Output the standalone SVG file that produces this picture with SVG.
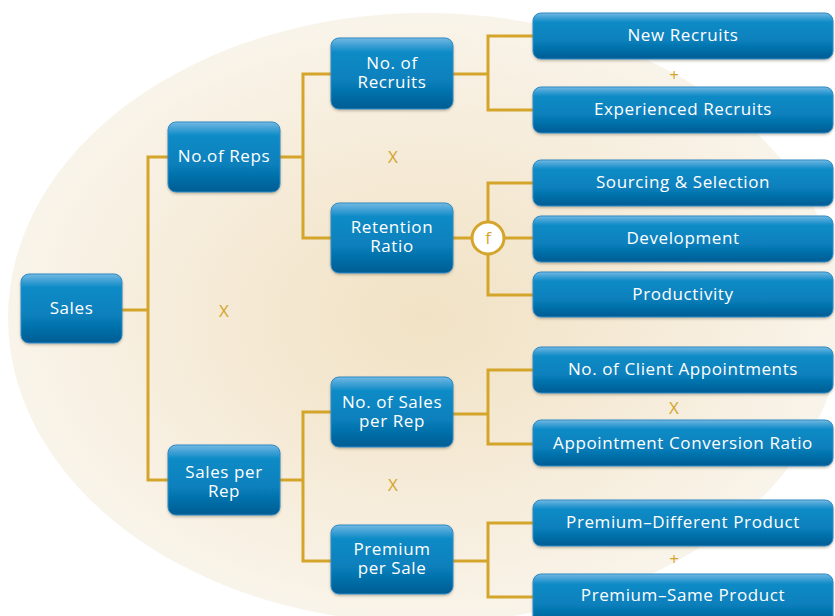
<svg xmlns="http://www.w3.org/2000/svg" width="835" height="616" viewBox="0 0 835 616">
  <defs>
    <radialGradient id="halo" cx="0.5" cy="0.5" r="0.5">
      <stop offset="0" stop-color="#F1E2C4"/>
      <stop offset="0.5" stop-color="#F5EAD6"/>
      <stop offset="1" stop-color="#F9F4EA"/>
    </radialGradient>
    <linearGradient id="boxFill" x1="0" y1="0" x2="0" y2="1">
      <stop offset="0" stop-color="#74B9E2"/>
      <stop offset="0.1" stop-color="#3FA0D5"/>
      <stop offset="0.2" stop-color="#0D8BC6"/>
      <stop offset="0.6" stop-color="#0780BC"/>
      <stop offset="1" stop-color="#045C93"/>
    </linearGradient>
    <filter id="shadow" x="-10%" y="-10%" width="120%" height="130%">
      <feDropShadow dx="0" dy="1.5" stdDeviation="1.2" flood-color="#5A4A2A" flood-opacity="0.35"/>
    </filter>
    <style>
      .box { fill: url(#boxFill); stroke: #2E8BC4; stroke-width: 1; filter: url(#shadow); }
      .lbl { font-family: "Open Sans", "Noto Sans", sans-serif; font-size: 17px; letter-spacing: 0.6px; fill: #FFFFFF; text-anchor: middle; }
      .op { font-family: "Open Sans", "Noto Sans", sans-serif; font-size: 17px; fill: #D4A52A; text-anchor: middle; }
      .wire { fill: none; stroke: #D4A52A; stroke-width: 3; }
    </style>
  </defs>

  <!-- soft backdrop -->
  <ellipse cx="425" cy="318" rx="417" ry="305" fill="url(#halo)"/>

  <!-- connectors -->
  <g id="connectors" class="wire">
    <path d="M122,310 H148 M168,157 H148 V480 H168"/>
    <path d="M280,157 H303 M331,74 H303 V238 H331"/>
    <path d="M280,480 H303 M331,412 H303 V561 H331"/>
    <path d="M453,74 H488 M533,36 H488 V110 H533"/>
    <path d="M453,238 H472 M504,238 H533 M533,183 H488 V222 M488,254 V295 H533"/>
    <path d="M453,414 H488 M533,370 H488 V444 H533"/>
    <path d="M453,561 H488 M533,523 H488 V597 H533"/>
  </g>

  <!-- operators -->
  <g id="operators">
    <text class="op" x="224" y="317">X</text>
    <text class="op" x="393" y="163">X</text>
    <text class="op" x="393" y="491">X</text>
    <text class="op" x="674" y="414">X</text>
    <text class="op" x="674" y="81">+</text>
    <text class="op" x="674" y="565">+</text>
  </g>

  <g id="node-f">
    <circle cx="488" cy="238" r="16" fill="#FFFFFF" stroke="#D4A52A" stroke-width="3"/>
    <text class="op" x="488" y="244">f</text>
  </g>

  <g id="node-sales">
    <rect class="box" x="21" y="274" width="101" height="69" rx="8"/>
    <text class="lbl" x="71.5" y="314">Sales</text>
  </g>
  <g id="node-reps">
    <rect class="box" x="168" y="122" width="112" height="70" rx="8"/>
    <text class="lbl" x="224" y="162">No.of Reps</text>
  </g>
  <g id="node-sales-per-rep">
    <rect class="box" x="168" y="445" width="112" height="70" rx="8"/>
    <text class="lbl" x="224" y="478">Sales per</text>
    <text class="lbl" x="224" y="497">Rep</text>
  </g>
  <g id="node-recruits">
    <rect class="box" x="331" y="38" width="122" height="71" rx="8"/>
    <text class="lbl" x="392" y="69">No. of</text>
    <text class="lbl" x="392" y="88">Recruits</text>
  </g>
  <g id="node-retention">
    <rect class="box" x="331" y="203" width="122" height="70" rx="8"/>
    <text class="lbl" x="392" y="233">Retention</text>
    <text class="lbl" x="392" y="252">Ratio</text>
  </g>
  <g id="node-sales-count">
    <rect class="box" x="331" y="377" width="122" height="70" rx="8"/>
    <text class="lbl" x="392" y="408">No. of Sales</text>
    <text class="lbl" x="392" y="427">per Rep</text>
  </g>
  <g id="node-premium">
    <rect class="box" x="331" y="525" width="122" height="69" rx="8"/>
    <text class="lbl" x="392" y="555">Premium</text>
    <text class="lbl" x="392" y="574">per Sale</text>
  </g>

  <g id="node-new-recruits">
    <rect class="box" x="533" y="13" width="300" height="46" rx="8"/>
    <text class="lbl" x="683" y="41">New Recruits</text>
  </g>
  <g id="node-experienced">
    <rect class="box" x="533" y="87" width="300" height="46" rx="8"/>
    <text class="lbl" x="683" y="115">Experienced Recruits</text>
  </g>
  <g id="node-sourcing">
    <rect class="box" x="533" y="160" width="300" height="46" rx="8"/>
    <text class="lbl" x="683" y="188">Sourcing &amp; Selection</text>
  </g>
  <g id="node-development">
    <rect class="box" x="533" y="216" width="300" height="46" rx="8"/>
    <text class="lbl" x="683" y="244">Development</text>
  </g>
  <g id="node-productivity">
    <rect class="box" x="533" y="272" width="300" height="45" rx="8"/>
    <text class="lbl" x="683" y="300">Productivity</text>
  </g>
  <g id="node-appointments">
    <rect class="box" x="533" y="347" width="300" height="46" rx="8"/>
    <text class="lbl" x="683" y="375">No. of Client Appointments</text>
  </g>
  <g id="node-conversion">
    <rect class="box" x="533" y="420" width="300" height="46" rx="8"/>
    <text class="lbl" x="683" y="449">Appointment Conversion Ratio</text>
  </g>
  <g id="node-premium-different">
    <rect class="box" x="533" y="500" width="300" height="46" rx="8"/>
    <text class="lbl" x="683" y="528">Premium–Different Product</text>
  </g>
  <g id="node-premium-same">
    <rect class="box" x="533" y="574" width="300" height="50" rx="8"/>
    <text class="lbl" x="683" y="601">Premium–Same Product</text>
  </g>
</svg>
